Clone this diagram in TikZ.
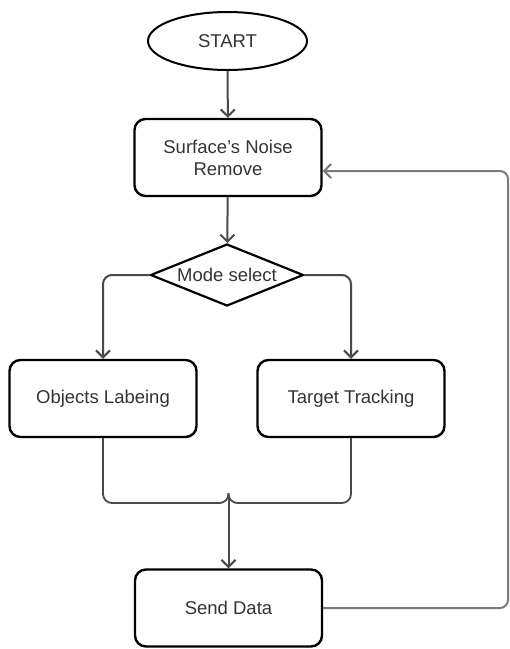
\documentclass[tikz,border=0pt]{standalone}
\usepackage{fontspec}
\setmainfont{Liberation Sans}
\usetikzlibrary{shapes.geometric,arrows.meta}
\definecolor{txt}{HTML}{333333}
\definecolor{wire}{HTML}{4a4a4a}
\definecolor{wirelight}{HTML}{7a7a7a}
\tikzset{
  every node/.style={font=\fontsize{18.5}{22}\selectfont, text=txt},
  stepbox/.style={draw=black, line width=2.4pt, rounded corners=11pt,
    minimum width=187pt, minimum height=77pt, align=center, inner sep=0pt},
  termnode/.style={draw=black, line width=2pt, ellipse,
    minimum width=159pt, minimum height=58pt, inner sep=0pt},
  decision/.style={draw=black, line width=2.2pt, diamond, aspect=2.5,
    minimum width=153pt, minimum height=62pt, inner sep=0pt},
  conn/.style={draw=wire, line width=2pt,
    -{Straight Barb[length=7pt,width=14pt,line width=2pt]}},
  plain/.style={draw=wire, line width=1.8pt}
}
\begin{document}
\begin{tikzpicture}[x=1pt, y=-1pt]
  \useasboundingbox (0,0) rectangle (510,649);

  % flow steps
  \node[termnode] (start) at (227.5,41) {START};
  \node[stepbox] (surf) at (228,157.5) {Surface's Noise\\Remove};
  \node[decision] (mode) at (227,275) {Mode select};
  \node[stepbox] (obj) at (103,398.5) {Objects Labeing};
  \node[stepbox] (trk) at (351,398.5) {Target Tracking};
  \node[stepbox] (send) at (228.5,608) {Send Data};

  % helper points for the join and the feedback loop
  \coordinate (join) at (228.5,503);
  \coordinate (loopbot) at (508,608);
  \coordinate (looptop) at (508,171);

  % main flow
  \draw[conn] (start) -- (surf);
  \draw[conn] (surf) -- (mode);
  \draw[conn, rounded corners=9pt] (mode.west) -| (obj.north);
  \draw[conn, rounded corners=9pt] (mode.east) -| (trk.north);

  % both branches merge into one line
  \draw[plain, rounded corners=9pt] (obj.south) |- (join) -- ([yshift=10pt]join);
  \draw[plain, rounded corners=9pt] (trk.south) |- (join) -- ([yshift=10pt]join);
  \draw[conn] ([yshift=8pt]join) -- (send.north);

  % feedback loop back to noise removal
  \draw[conn, draw=wirelight, rounded corners=8pt] (send.east) -- (loopbot) -- (looptop) -- (surf.east |- looptop);
\end{tikzpicture}
\end{document}
